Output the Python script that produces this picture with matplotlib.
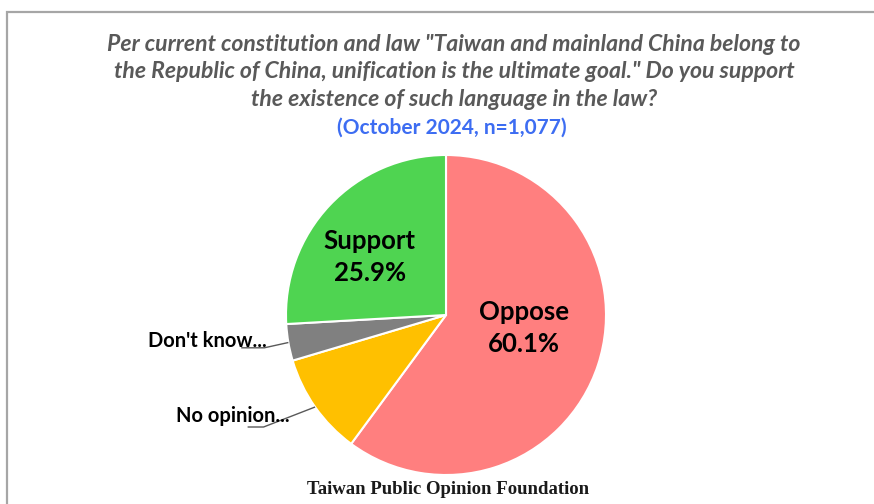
import matplotlib.pyplot as plt
import numpy as np
from matplotlib.patches import Rectangle

# survey answers, clockwise from 12 o'clock
answers = ["Oppose", "No opinion", "Don't know", "Support"]
shares = [60.1, 10.3, 3.7, 25.9]
colors = ["#FF7F7F", "#FFC000", "#808080", "#4FD451"]

title = ('Per current constitution and law "Taiwan and mainland China belong to\n'
         'the Republic of China, unification is the ultimate goal." Do you support\n'
         'the existence of such language in the law?')
subtitle = "(October 2024, n=1,077)"
source = "Taiwan Public Opinion Foundation"

W, H = 874, 504
fig = plt.figure(figsize=(W / 100, H / 100), dpi=100)
fig.patch.set_facecolor("white")

# chart frame (left/top edges visible, rest runs off the canvas)
fig.patches.append(Rectangle((6.5 / W, -0.1), 1.2, (H - 11.5) / H + 0.1,
                             transform=fig.transFigure, fill=False,
                             edgecolor="#A6A6A6", linewidth=1.6))

cx, cy, r = 446, 315, 160
ax = fig.add_axes([(cx - r) / W, (H - cy - r) / H, 2 * r / W, 2 * r / H])
wedges, _ = ax.pie(shares, colors=colors, startangle=90, counterclock=False,
                   wedgeprops=dict(edgecolor="white", linewidth=1.5))
ax.set_xlim(-1, 1)
ax.set_ylim(-1, 1)
ax.axis("off")

lbl_font = ["Lato", "DejaVu Sans"]

# big labels inside the wedges: (radius, angle shift in degrees)
inside = {"Oppose": (0.494, 8.75), "Support": (0.60, 6.0)}
for w, name, val in zip(wedges, answers, shares):
    mid = np.deg2rad((w.theta1 + w.theta2) / 2)
    if name in inside:
        rr, shift = inside[name]
        a = mid + np.deg2rad(shift)
        ax.text(rr * np.cos(a), rr * np.sin(a), f"{name}\n{val}%",
                ha="center", va="center", fontsize=18.5, fontweight="bold",
                family=lbl_font, linespacing=1.42)

# small slices get truncated outside labels with leader lines
outside = {"Don't know": (-1.12, -0.165, -1.135, -0.205, -1.28),
           "No opinion": (-0.975, -0.63, -1.14, -0.70, -1.24)}
for w, name in zip(wedges, answers):
    if name not in outside:
        continue
    mid = np.deg2rad((w.theta1 + w.theta2) / 2)
    tx, ty, ex, ey, hx = outside[name]
    ax.plot([np.cos(mid), ex, hx], [np.sin(mid), ey, ey], color="#595959",
            linewidth=1.0, clip_on=False, solid_capstyle="butt")
    ax.text(tx, ty, name + "...", ha="right", va="center", fontsize=14.5,
            fontweight="bold", family=lbl_font)

fig.text(454 / W, 1 - 72 / H, title, ha="center", va="center", fontsize=16.6,
         fontweight="bold", style="italic", color="#595959", family=lbl_font,
         linespacing=1.36)
fig.text(452 / W, 1 - 128 / H, subtitle, ha="center", va="center", fontsize=15,
         fontweight="bold", color="#3D6DF2", family=lbl_font)
fig.text(448 / W, 1 - 490 / H, source, ha="center", va="center", fontsize=13.5,
         fontweight="bold", color="#1a1a1a", family=["Liberation Serif", "DejaVu Serif"])

fig.savefig("out.png", dpi=100)
